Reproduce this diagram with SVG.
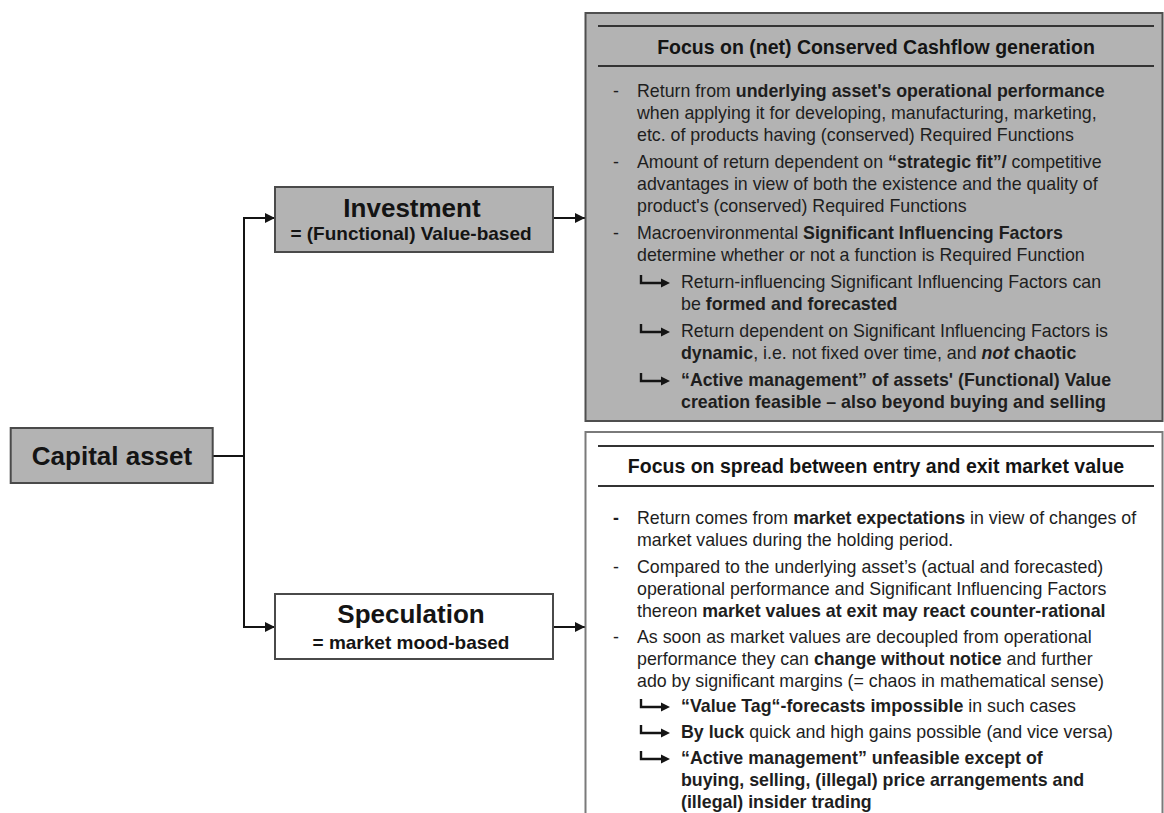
<svg xmlns="http://www.w3.org/2000/svg" width="1164" height="813" viewBox="0 0 1164 813">
  <style>
    .node { stroke: #4a4a4a; stroke-width: 2; }
    .grey { fill: #b3b3b3; }
    .white { fill: #ffffff; }
    .title { font-family: "Liberation Sans", Arial, sans-serif; font-weight: bold; font-size: 26px; fill: #141414; text-anchor: middle; }
    .sub { font-family: "Liberation Sans", Arial, sans-serif; font-weight: bold; font-size: 19px; fill: #141414; text-anchor: middle; }
    .head { font-family: "Liberation Sans", Arial, sans-serif; font-weight: bold; font-size: 19.5px; fill: #141414; text-anchor: middle; }
    .body { font-family: "Liberation Sans", Arial, sans-serif; font-size: 17.8px; fill: #1e1e1e; }
    .k { font-weight: bold; }
    .rule { stroke: #333333; stroke-width: 2; }
    .conn { fill: none; stroke: #141414; stroke-width: 2; }
    .sub-arrow { fill: none; stroke: #141414; stroke-width: 2.4; }
  </style>
  <defs>
    <marker id="head" viewBox="0 0 10 10" refX="10" refY="5" markerWidth="5" markerHeight="5" orient="auto" markerUnits="strokeWidth">
      <path d="M0,0 L10,5 L0,10 Z" fill="#141414"/>
    </marker>
    <!-- bent "turn" arrow used in front of the consequence lines -->
    <symbol id="turn" overflow="visible">
      <path d="M0,-13 V-5 H22" class="sub-arrow"/>
      <path d="M20,-9.5 L29,-5 L20,-0.5 Z" fill="#141414"/>
    </symbol>
  </defs>

  <rect width="1164" height="813" fill="#ffffff"/>

  <!-- connectors -->
  <g id="connectors">
    <path class="conn" d="M212.7,456 H244 M244,218 V627"/>
    <path class="conn" d="M243,218 H275" marker-end="url(#head)"/>
    <path class="conn" d="M243,627 H275" marker-end="url(#head)"/>
    <path class="conn" d="M553,218 H585" marker-end="url(#head)"/>
    <path class="conn" d="M553,627 H585" marker-end="url(#head)"/>
  </g>

  <!-- root node -->
  <g id="capital-asset">
    <rect class="node grey" x="10.7" y="428" width="202" height="55"/>
    <text class="title" x="112" y="465">Capital asset</text>
  </g>

  <!-- branch nodes -->
  <g id="investment">
    <rect class="node grey" x="275" y="187" width="278" height="65"/>
    <text class="title" x="412" y="216.5">Investment</text>
    <text class="sub" x="411" y="240">= (Functional) Value-based</text>
  </g>

  <g id="speculation">
    <rect class="node white" x="275" y="594" width="278" height="65"/>
    <text class="title" x="411" y="623">Speculation</text>
    <text class="sub" x="411" y="649">= market mood-based</text>
  </g>

  <!-- detail panel: investment -->
  <g id="investment-detail">
    <rect x="585.5" y="13" width="577" height="408" fill="#b3b3b3" stroke="#4f4f4f" stroke-width="2"/>
    <line class="rule" x1="598" y1="26" x2="1154" y2="26"/>
    <text class="head" x="876" y="54">Focus on (net) Conserved Cashflow generation</text>
    <line class="rule" x1="598" y1="66" x2="1154" y2="66"/>
    <g class="body">
      <text x="613" y="97">-</text>
      <text x="637" y="97">Return from <tspan class="k">underlying asset's operational performance</tspan></text>
      <text x="637" y="119">when applying it for developing, manufacturing, marketing,</text>
      <text x="637" y="141">etc. of products having (conserved) Required Functions</text>
      <text x="613" y="168">-</text>
      <text x="637" y="168">Amount of return dependent on <tspan class="k">“strategic fit”/</tspan> competitive</text>
      <text x="637" y="190">advantages in view of both the existence and the quality of</text>
      <text x="637" y="212">product's (conserved) Required Functions</text>
      <text x="613" y="239">-</text>
      <text x="637" y="239">Macroenvironmental <tspan class="k">Significant Influencing Factors</tspan></text>
      <text x="637" y="261">determine whether or not a function is Required Function</text>
      <text x="681" y="288">Return-influencing Significant Influencing Factors can</text>
      <text x="681" y="310">be <tspan class="k">formed and forecasted</tspan></text>
      <text x="681" y="337">Return dependent on Significant Influencing Factors is</text>
      <text x="681" y="359"><tspan class="k">dynamic</tspan>, i.e. not fixed over time, and <tspan class="k" font-style="italic">not</tspan><tspan class="k"> chaotic</tspan></text>
      <text x="681" y="386" class="k">“Active management” of assets' (Functional) Value</text>
      <text x="681" y="408" class="k">creation feasible – also beyond buying and selling</text>
    </g>
    <use href="#turn" x="641" y="288"/>
    <use href="#turn" x="641" y="337"/>
    <use href="#turn" x="641" y="386"/>
  </g>

  <!-- detail panel: speculation -->
  <g id="speculation-detail">
    <rect x="585.5" y="432" width="577" height="400" fill="#ffffff" stroke="#7a7a7a" stroke-width="2"/>
    <line class="rule" x1="598" y1="446" x2="1154" y2="446"/>
    <text class="head" x="876" y="473">Focus on spread between entry and exit market value</text>
    <line class="rule" x1="598" y1="486" x2="1154" y2="486"/>
    <g class="body">
      <text x="613" y="524" class="k">-</text>
      <text x="637" y="524">Return comes from <tspan class="k">market expectations</tspan> in view of changes of</text>
      <text x="637" y="546">market values during the holding period.</text>
      <text x="613" y="573">-</text>
      <text x="637" y="573">Compared to the underlying asset’s (actual and forecasted)</text>
      <text x="637" y="595">operational performance and Significant Influencing Factors</text>
      <text x="637" y="617">thereon <tspan class="k">market values at exit may react counter-rational</tspan></text>
      <text x="613" y="643">-</text>
      <text x="637" y="643">As soon as market values are decoupled from operational</text>
      <text x="637" y="665">performance they can <tspan class="k">change without notice</tspan> and further</text>
      <text x="637" y="687">ado by significant margins (= chaos in mathematical sense)</text>
      <text x="681" y="712"><tspan class="k">“Value Tag“-forecasts impossible</tspan> in such cases</text>
      <text x="681" y="738"><tspan class="k">By luck</tspan> quick and high gains possible (and vice versa)</text>
      <text x="681" y="764" class="k">“Active management” unfeasible except of</text>
      <text x="681" y="786" class="k">buying, selling, (illegal) price arrangements and</text>
      <text x="681" y="808" class="k">(illegal) insider trading</text>
    </g>
    <use href="#turn" x="641" y="712"/>
    <use href="#turn" x="641" y="738"/>
    <use href="#turn" x="641" y="764"/>
  </g>
</svg>
